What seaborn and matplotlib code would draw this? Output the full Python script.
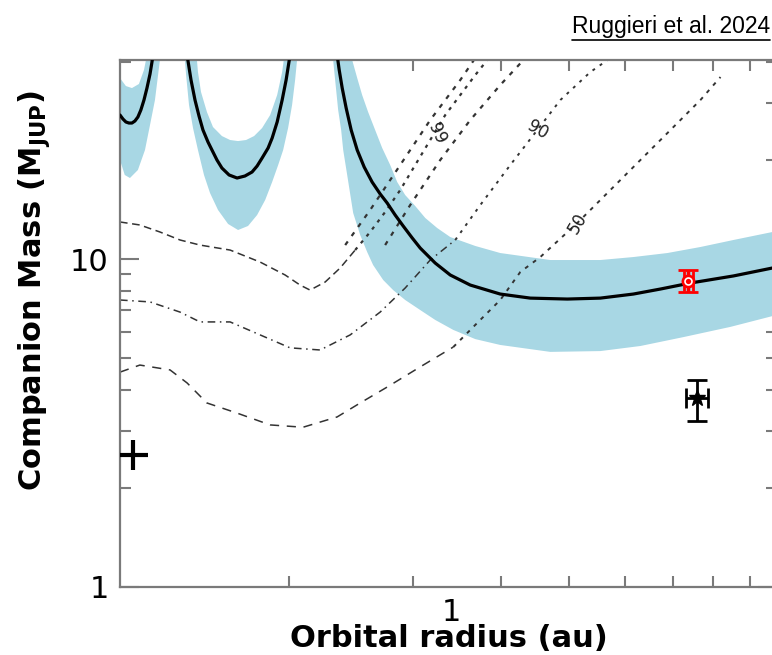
import numpy as np
import pandas as pd
import matplotlib
matplotlib.use("Agg")
import matplotlib.pyplot as plt
import seaborn as sns
from matplotlib.ticker import FixedLocator, NullFormatter, FixedFormatter
from matplotlib.lines import Line2D

# ---------------- data ----------------
# detection-limit curve (three branches), orbital radius [au], mass [M_Jup]
curve_a_x = [0.3387, 0.3420, 0.3453, 0.3487, 0.3522, 0.3556, 0.3591, 0.3626, 0.3663, 0.3699,
             0.3736, 0.3760, 0.3772]
curve_a_y = [27.48, 26.72, 26.17, 25.98, 25.98, 26.35, 27.10, 28.47, 30.53, 33.21,
             36.64, 39.86, 41.9]
curve_b_x = [0.4217, 0.4272, 0.4328, 0.4385, 0.4442, 0.4516, 0.4575, 0.4650, 0.4726, 0.4838,
             0.4966, 0.5095, 0.5215, 0.5302, 0.5389, 0.5496, 0.5569, 0.5661, 0.5754, 0.5829, 0.5905]
curve_b_y = [41.9, 35.13, 30.53, 27.29, 24.74, 22.73, 21.49, 20.04, 18.94, 18.04,
             17.66, 17.91, 18.42, 19.21, 20.32, 21.80, 23.38, 26.17, 30.53, 35.13, 41.9]
curve_c_x = [0.6887, 0.6934, 0.7002, 0.7093, 0.7210, 0.7354, 0.7523, 0.7721, 0.7927, 0.8110,
             0.8325, 0.8546, 0.8803, 0.9036, 0.9490, 0.9967, 1.0641, 1.1737, 1.2949, 1.4616,
             1.6279, 1.8136, 1.9811, 2.1850, 2.5155, 2.8576, 2.933]
curve_c_y = [41.9, 37.69, 33.21, 28.87, 24.74, 21.49, 19.08, 17.17, 15.79, 14.82,
             13.62, 12.61, 11.59, 10.80, 9.72, 8.94, 8.33, 7.82, 7.60, 7.55,
             7.60, 7.82, 8.10, 8.45, 8.88, 9.39, 9.52]

# uncertainty band: outer (lower) edge and inner (upper) edge of each branch
band_a_low_x = [0.3387, 0.344, 0.3499, 0.3591, 0.3675, 0.3736, 0.3797, 0.3859, 0.3886]
band_a_low_y = [20.04, 18.04, 17.66, 18.68, 21.49, 25.62, 30.53, 40.44, 43.4]
band_a_up_x = [0.3712, 0.3663, 0.3603, 0.3522, 0.3453, 0.3387]
band_a_up_y = [43.4, 37.69, 34.17, 33.21, 33.68, 35.63]

band_b_low_x = [0.4176, 0.4204, 0.4244, 0.4300, 0.4370, 0.4457, 0.4546, 0.4666, 0.4822, 0.4982,
                0.5147, 0.5302, 0.5444, 0.5569, 0.5680, 0.5773, 0.5867, 0.5944, 0.6003, 0.6061]
band_b_low_y = [43.4, 36.39, 29.48, 25.08, 21.49, 18.04, 15.89, 14.11, 12.79, 12.26,
                12.61, 13.62, 15.14, 17.17, 19.35, 21.49, 25.08, 29.48, 35.13, 43.4]
band_b_up_x = [0.5810, 0.5754, 0.5661, 0.5533, 0.5389, 0.5250, 0.5114, 0.4982, 0.4854, 0.4726,
               0.4590, 0.4500, 0.4414, 0.4370, 0.4343]
band_b_up_y = [43.4, 37.16, 31.62, 27.48, 25.08, 23.71, 23.06, 22.89, 23.06, 23.71,
               25.26, 28.07, 32.29, 37.16, 43.4]

band_c_low_x = [0.6776, 0.6820, 0.6865, 0.6910, 0.6978, 0.7025, 0.7117, 0.7258, 0.7426, 0.7598,
                0.7746, 0.8006, 0.8271, 0.8603, 0.9036, 0.9490, 1.0066, 1.0817, 1.1737, 1.3823,
                1.6279, 1.8556, 2.1357, 2.4906, 2.8576, 2.933]
band_c_low_y = [43.4, 37.69, 32.75, 28.47, 24.74, 21.49, 18.04, 13.81, 11.84, 10.50,
                9.59, 8.63, 8.04, 7.50, 6.99, 6.52, 6.08, 5.70, 5.47, 5.21,
                5.24, 5.43, 5.78, 6.21, 6.70, 6.80]
band_c_up_x = [2.933, 2.8576, 2.5155, 2.2577, 2.0271, 1.8136, 1.6279, 1.3823, 1.1737, 1.0817,
               0.9967, 0.9552, 0.9186, 0.8889, 0.8603, 0.8381, 0.8191, 0.7980, 0.7798, 0.7621,
               0.7474, 0.7354, 0.7234, 0.7140]
band_c_up_y = [12.17, 12.09, 11.43, 10.88, 10.43, 10.14, 9.93, 9.93, 10.43, 10.96,
               11.67, 12.43, 13.34, 14.51, 15.67, 17.17, 19.35, 21.80, 24.74, 28.07,
               31.62, 35.63, 40.44, 44.9]

# detection-probability contours (99 %, 90 %, 50 %)
c99_x = [0.3387, 0.3614, 0.3859, 0.4121, 0.4399, 0.4854, 0.5354, 0.5810, 0.6101, 0.6304,
         0.6623, 0.6955, 0.7305]
c99_y = [12.97, 12.70, 12.09, 11.43, 11.03, 10.65, 9.79, 8.94, 8.33, 8.04,
         8.51, 9.39, 10.65]
c99_diag_x = [0.7305, 0.7672, 0.8057, 0.8464, 0.8889, 0.9336, 0.9806, 1.0299, 1.0817, 1.1250]
c99_diag_y = [10.65, 12.09, 13.91, 16.23, 19.35, 23.06, 27.48, 31.62, 36.39, 40.44]
c99_l1_x = [0.7071, 0.7672, 0.8464, 0.9336, 1.0299, 1.0817]
c99_l1_y = [11.03, 14.11, 19.35, 26.53, 35.13, 41.0]
c99_l2_x = [0.8057, 0.8743, 0.9647, 1.0641, 1.1737, 1.2738]
c99_l2_y = [11.03, 14.60, 20.04, 26.53, 33.92, 41.0]

c90_x = [0.3387, 0.3736, 0.4121, 0.4399, 0.4854, 0.5354, 0.5905, 0.6515, 0.7187, 0.7927,
         0.8603, 0.9336, 1.0132]
c90_y = [7.50, 7.40, 6.89, 6.43, 6.43, 5.87, 5.36, 5.28, 5.87, 6.89,
         8.16, 9.93, 11.43]
c90_diag_x = [1.0132, 1.0994, 1.2129, 1.3249, 1.4284, 1.5756, 1.6822]
c90_diag_y = [11.43, 14.60, 19.35, 24.74, 30.53, 37.16, 41.0]

c50_x = [0.3387, 0.3614, 0.3989, 0.4217, 0.4500, 0.4966, 0.5533, 0.6161, 0.6887, 0.7426,
         0.8110, 0.9036, 1.0066]
c50_y = [4.52, 4.75, 4.59, 4.19, 3.64, 3.39, 3.12, 3.07, 3.30, 3.64,
         4.07, 4.69, 5.39]
c50_diag_x = [1.0066, 1.0994, 1.1737, 1.2532, 1.3379, 1.5100, 1.7211, 2.0271, 2.2577, 2.4109]
c50_diag_y = [5.39, 6.52, 7.50, 9.13, 10.14, 12.88, 17.05, 24.22, 30.53, 35.88]

contour_labels = ["99", "90", "50"]
label_x = [0.9552, 1.3249, 1.5100]
label_y = [24.22, 24.74, 12.88]

# measured companions
red_x, red_y, red_yerr, red_xerr = 2.171, 8.57, 0.66, 0.03
blk_x, blk_y, blk_yerr_lo, blk_yerr_hi, blk_xerr = 2.235, 3.77, 0.56, 0.51, 0.08
plus_x, plus_y = 0.3535, 2.53

# axes
x_lim = (0.3387, 2.90)
y_lim = (1.0, 40.44)
x_major = [1.0]
x_major_labels = ["1"]
x_minor = [0.589, 0.883, 1.178, 1.471, 1.767, 2.061, 2.356, 2.651]
y_major = [1.0, 10.0]
y_major_labels = ["1", "10"]
y_minor = [2, 3, 4, 5, 6, 7, 8, 9, 20, 30, 40]

# ---------------- figure ----------------
sns.set_theme(style="white")
plt.rcParams["font.family"] = ["DejaVu Sans"]
plt.rcParams["mathtext.fontset"] = "dejavusans"
plt.rcParams["text.color"] = "black"
plt.rcParams["axes.labelcolor"] = "black"

fig = plt.figure(figsize=(7.72, 6.55), dpi=100)
ax = fig.add_axes([120 / 772, 1 - 587 / 655, (777 - 120) / 772, (587 - 60) / 655])
ax.set_xscale("log")
ax.set_yscale("log")

band_color = "#a8d7e4"
for lx, ly, ux, uy in [(band_a_low_x, band_a_low_y, band_a_up_x, band_a_up_y),
                       (band_b_low_x, band_b_low_y, band_b_up_x, band_b_up_y),
                       (band_c_low_x, band_c_low_y, band_c_up_x, band_c_up_y)]:
    ax.fill(list(lx) + list(ux), list(ly) + list(uy), color=band_color, lw=0, zorder=1)

# contours
ccol = "#333333"
def line(xs, ys, **kw):
    sns.lineplot(x=xs, y=ys, ax=ax, sort=False, estimator=None, **kw)

line(c99_x, c99_y, color=ccol, lw=1.1, linestyle=(0, (5, 3)), zorder=2)
line(c99_diag_x, c99_diag_y, color=ccol, lw=1.6, linestyle=(0, (1.5, 2.5)), zorder=2)
line(c99_l1_x, c99_l1_y, color=ccol, lw=1.6, linestyle=(0, (2, 3)), zorder=2)
line(c99_l2_x, c99_l2_y, color=ccol, lw=1.6, linestyle=(0, (2, 3)), zorder=2)
line(c90_x, c90_y, color=ccol, lw=1.1, linestyle=(0, (5, 3, 1, 3)), zorder=2)
line(c90_diag_x, c90_diag_y, color=ccol, lw=1.4, linestyle=(0, (1.5, 3)), zorder=2)
line(c50_x, c50_y, color=ccol, lw=1.1, linestyle=(0, (6, 5)), zorder=2)
line(c50_diag_x, c50_diag_y, color=ccol, lw=1.4, linestyle=(0, (2, 3)), zorder=2)

rots = [-65, -30, 60]
for t, lx_, ly_, r in zip(contour_labels, label_x, label_y, rots):
    ax.text(lx_, ly_, t, fontsize=12, rotation=r, ha="center", va="center",
            color="#222222", zorder=3)

# detection curve
for cx, cy in [(curve_a_x, curve_a_y), (curve_b_x, curve_b_y), (curve_c_x, curve_c_y)]:
    line(cx, cy, color="black", lw=2.3, zorder=4)

# companions
ax.errorbar([red_x], [red_y], yerr=[[red_yerr], [red_yerr]], xerr=[[red_xerr], [red_xerr]],
            fmt="o", ms=8, mfc="red", mec="red", mew=2, ecolor="red", elinewidth=2.5,
            capsize=7, capthick=3, zorder=6)
ax.plot([red_x], [red_y], marker="o", ms=5, mfc="none", mec="white", mew=1.2, zorder=7)
ax.errorbar([blk_x], [blk_y], yerr=[[blk_yerr_lo], [blk_yerr_hi]], xerr=[[blk_xerr], [blk_xerr]],
            fmt="*", ms=12, color="black", elinewidth=2, capsize=7, capthick=2, zorder=6)
ax.plot([plus_x], [plus_y], marker="+", ms=22, mew=3, color="black", zorder=6)

# axes styling
ax.set_xlim(*x_lim)
ax.set_ylim(*y_lim)
ax.xaxis.set_major_locator(FixedLocator(x_major))
ax.xaxis.set_major_formatter(FixedFormatter(x_major_labels))
ax.xaxis.set_minor_locator(FixedLocator(x_minor))
ax.xaxis.set_minor_formatter(NullFormatter())
ax.yaxis.set_major_locator(FixedLocator(y_major))
ax.yaxis.set_major_formatter(FixedFormatter(y_major_labels))
ax.yaxis.set_minor_locator(FixedLocator(y_minor))
ax.yaxis.set_minor_formatter(NullFormatter())

spine_col = "#7a7a7a"
for s in ax.spines.values():
    s.set_color(spine_col)
    s.set_linewidth(1.6)
ax.tick_params(axis="x", which="major", length=0, labelsize=22, pad=8, labelcolor="black")
ax.tick_params(axis="y", which="major", length=14, width=1.5, direction="in", labelsize=22,
               pad=8, color=spine_col, labelcolor="black", left=True, right=True)
ax.tick_params(which="minor", length=8, width=1.5, direction="in", color=spine_col,
               top=True, bottom=True, left=True, right=True)

ax.set_xlabel("Orbital radius (au)", fontsize=22, fontweight="bold", labelpad=-2, color="black")
ax.set_ylabel(r"Companion Mass (M$_{\mathbf{JUP}}$)", fontsize=22, fontweight="bold", color="black")
ax.yaxis.set_label_coords(-0.103, 0.562)

# citation with underline
t = fig.text(770 / 772, 1 - 27 / 655, "Ruggieri et al. 2024", ha="right", va="center",
             fontsize=16.5, family=["Liberation Sans", "DejaVu Sans"], color="black")
fig.canvas.draw()
bb = t.get_window_extent()
fig.add_artist(Line2D([bb.x0 / 772, bb.x1 / 772], [(bb.y0 - 1) / 655, (bb.y0 - 1) / 655],
                      color="black", lw=1.2))

fig.savefig("out.png", dpi=100)
